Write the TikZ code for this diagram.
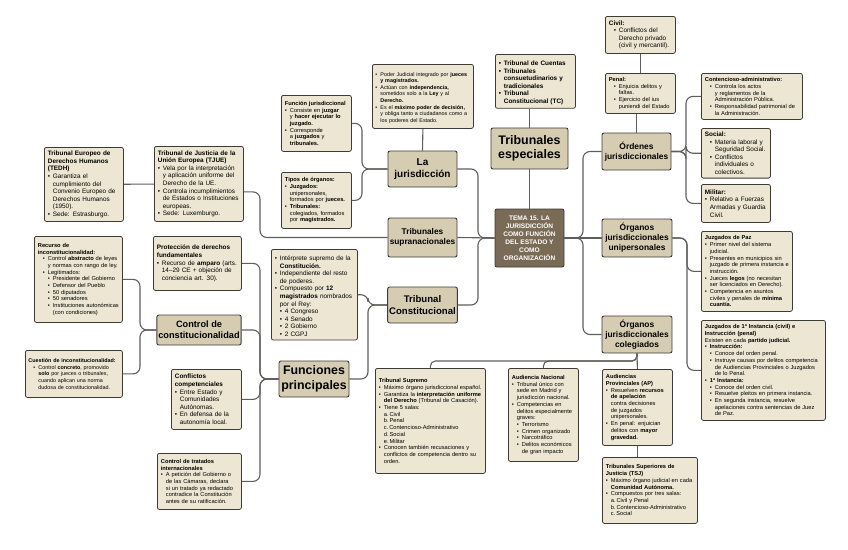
\documentclass[tikz,border=0pt]{standalone}
\usepackage{fontspec}
\setmainfont{Liberation Sans}
\usepackage{xcolor}
\usepackage{tikz}
\usetikzlibrary{positioning}
\definecolor{borde}{HTML}{3D3B37}
\definecolor{gris}{HTML}{5F5E5B}
\definecolor{fondohoja}{HTML}{ECE6D3}
\definecolor{fondorama}{HTML}{D5CCB2}
\definecolor{fondocentro}{HTML}{7A6B56}
\hyphenpenalty=10000
\exhyphenpenalty=10000
\newcommand{\puno}{\par\hangindent=5pt\hangafter=1\noindent\makebox[5pt][l]{\textbullet}}
\newcommand{\pdos}{\par\hangindent=10pt\hangafter=1\noindent\hspace*{5pt}\makebox[5pt][l]{\textbullet}}
\newcommand{\ptres}{\par\hangindent=15pt\hangafter=1\noindent\hspace*{10pt}\makebox[5pt][l]{\textbullet}}
\newcommand{\pletra}{\par\hangindent=10pt\hangafter=1\noindent\hspace*{5pt}}
\tikzset{
  hoja/.style={rectangle, rounded corners=2pt, draw=borde, fill=fondohoja, text=black,
    align=left, anchor=north west, inner sep=3.5pt, line width=0.8pt},
  chica/.style={font=\fontsize{5.7}{6.7}\selectfont},
  mini/.style={font=\fontsize{5.4}{6.6}\selectfont},
  media/.style={font=\fontsize{6.4}{7.6}\selectfont},
  rama/.style={rectangle, rounded corners=2pt, draw=borde, fill=fondorama, text=black,
    align=center, inner sep=1.5pt, line width=0.9pt},
  centro/.style={rama, fill=fondocentro, text=white, font=\fontsize{6.6}{8}\selectfont\bfseries},
  lien/.style={draw=gris, line width=1.1pt, rounded corners=7pt},
}

\begin{document}
\begin{tikzpicture}[x=1pt, y=-1pt]
  \useasboundingbox (0,0) rectangle (848,549);

  % ramas principales
  \node[centro, minimum width=69pt, minimum height=58pt] (tema) at (529.5,238)
    {TEMA 15. LA\\JURISDICCIÓN\\COMO FUNCIÓN\\DEL ESTADO Y\\COMO\\ORGANIZACIÓN};
  \node[rama, font=\fontsize{12.4}{14.5}\selectfont\bfseries, minimum width=77pt, minimum height=41pt] (especiales) at (529.5,148.5) {Tribunales\\especiales};
  \node[rama, font=\fontsize{8.4}{10}\selectfont\bfseries, minimum width=69pt, minimum height=37pt] (ordenes) at (636.5,151.5) {Órdenes\\jurisdiccionales};
  \node[rama, font=\fontsize{8.4}{10}\selectfont\bfseries, minimum width=70pt, minimum height=38pt] (unipersonales) at (637,238) {Órganos\\jurisdiccionales\\unipersonales};
  \node[rama, font=\fontsize{8.4}{10}\selectfont\bfseries, minimum width=70pt, minimum height=37pt] (colegiados) at (637,334.5) {Órganos\\jurisdiccionales\\colegiados};
  \node[rama, font=\fontsize{10}{11.7}\selectfont\bfseries, minimum width=69pt, minimum height=36pt] (jurisdiccion) at (422.5,169) {La\\jurisdicción};
  \node[rama, font=\fontsize{8.3}{9.8}\selectfont\bfseries, minimum width=69pt, minimum height=39pt] (supranacionales) at (422.5,237.5) {Tribunales\\supranacionales};
  \node[rama, font=\fontsize{9.6}{11.5}\selectfont\bfseries, minimum width=69pt, minimum height=36pt] (constitucional) at (422.5,305) {Tribunal\\Constitucional};
  \node[rama, font=\fontsize{12.4}{14.5}\selectfont\bfseries, minimum width=70pt, minimum height=36pt] (funciones) at (314,379) {Funciones\\principales};
  \node[rama, font=\fontsize{9.2}{11}\selectfont\bfseries, minimum width=84pt, minimum height=30pt] (control) at (199,330) {Control de\\constitucionalidad};

  % hojas: lado izquierdo
  \node[hoja, media, text width=72pt, minimum height=74pt] (tedh) at (44,147)
    {\textbf{Tribunal Europeo de Derechos Humanos (TEDH)}\puno Garantiza el cumplimiento del Convenio Europeo de Derechos Humanos (1950).\puno Sede: Estrasburgo.\par};
  \node[hoja, media, text width=82pt, minimum height=75pt] (tjue) at (154,146)
    {\textbf{Tribunal de Justicia de la Unión Europea (TJUE)}\puno Vela por la interpretación y aplicación uniforme del Derecho de la UE.\puno Controla incumplimientos de Estados o Instituciones europeas.\puno Sede: Luxemburgo.\par};
  \node[hoja, chica, text width=81pt, minimum height=86pt] (recurso) at (34,236)
    {\textbf{Recurso de inconstitucionalidad:}\pdos Control \textbf{abstracto} de leyes y normas con rango de ley.\pdos Legitimados:\ptres Presidente del Gobierno\ptres Defensor del Pueblo\ptres 50 diputados\ptres 50 senadores\ptres Instituciones autonómicas (con condiciones)\par};
  \node[hoja, media, text width=81pt, minimum height=54pt] (proteccion) at (153,236)
    {\textbf{Protección de derechos fundamentales}\puno Recurso de \textbf{amparo} (arts. 14–29 CE + objeción de conciencia art. 30).\par};
  \node[hoja, mini, text width=91pt, minimum height=47pt, inner sep=3pt] (cuestion) at (25,350)
    {\textbf{Cuestión de inconstitucionalidad:}\pdos Control \textbf{concreto}, promovido \textbf{solo} por jueces o tribunales, cuando aplican una norma dudosa de constitucionalidad.\par};
  \node[hoja, media, text width=63pt, minimum height=60pt] (conflictos) at (171,369)
    {\textbf{Conflictos competenciales}\puno Entre Estado y Comunidades Autónomas.\puno En defensa de la autonomía local.\par};
  \node[hoja, chica, text width=77pt, minimum height=56pt] (tratados) at (157,453)
    {\textbf{Control de tratados internacionales}\puno A petición del Gobierno o de las Cámaras, declara si un tratado ya redactado contradice la Constitución antes de su ratificación.\par};

  % hojas: la jurisdicción y TC
  \node[hoja, chica, text width=63pt, minimum height=56pt] (funcion) at (281,95)
    {\textbf{Función jurisdiccional}\puno Consiste en \textbf{juzgar} y \textbf{hacer ejecutar lo juzgado.}\puno Corresponde a \textbf{juzgados} y \textbf{tribunales.}\par};
  \node[hoja, chica, text width=63pt, minimum height=56pt] (tipos) at (281,172)
    {\textbf{Tipos de órganos:}\puno \textbf{Juzgados:} unipersonales, formados por \textbf{jueces.}\puno \textbf{Tribunales:} colegiados, formados por \textbf{magistrados.}\par};
  \node[hoja, mini, text width=95pt, minimum height=64pt, inner sep=3pt] (poder) at (372,64)
    {\puno Poder Judicial integrado por \textbf{jueces y magistrados.}\puno Actúan con \textbf{independencia,} sometidos solo a la \textbf{Ley} y al \textbf{Derecho.}\puno Es el \textbf{máximo poder de decisión,} y obliga tanto a ciudadanos como a los poderes del Estado.\par};
  \node[hoja, media, text width=79pt, minimum height=89pt] (interprete) at (271,249)
    {\puno Intérprete supremo de la \textbf{Constitución.}\puno Independiente del resto de poderes.\puno Compuesto por \textbf{12 magistrados} nombrados por el Rey:\pdos 4 Congreso\pdos 4 Senado\pdos 2 Gobierno\pdos 2 CGPJ\par};

  % hojas: tribunales especiales y órdenes
  \node[hoja, media, text width=73pt, minimum height=52pt] (cuentas) at (495,54)
    {\bfseries\puno Tribunal de Cuentas\puno Tribunales consuetudinarios y tradicionales\puno Tribunal Constitucional (TC)\par};
  \node[hoja, media, text width=63pt, minimum height=37pt] (civil) at (605,16)
    {\textbf{Civil:}\pdos Conflictos del Derecho privado (civil y mercantil).\par};
  \node[hoja, chica, text width=63pt, minimum height=40pt] (penal) at (605,73)
    {\textbf{Penal:}\pdos Enjuicia delitos y faltas.\pdos Ejercicio del ius puniendi del Estado\par};
  \node[hoja, chica, text width=94pt, minimum height=46pt] (contencioso) at (701,73)
    {\textbf{Contencioso-administrativo:}\pdos Controla los actos y reglamentos de la Administración Pública.\pdos Responsabilidad patrimonial de la Administración.\par};
  \node[hoja, media, text width=62pt, minimum height=47pt] (social) at (701,128)
    {\textbf{Social:}\pdos Materia laboral y Seguridad Social.\pdos Conflictos individuales o colectivos.\par};
  \node[hoja, media, text width=62pt, minimum height=38pt] (militar) at (701,184)
    {\textbf{Militar:}\puno Relativo a Fuerzas Armadas y Guardia Civil.\par};

  % hojas: órganos
  \node[hoja, chica, text width=84pt, minimum height=80pt] (paz) at (701,231)
    {\textbf{Juzgados de Paz}\puno Primer nivel del sistema judicial.\puno Presentes en municipios sin juzgado de primera instancia e instrucción.\puno Jueces \textbf{legos} (no necesitan ser licenciados en Derecho).\puno Competencia en asuntos civiles y penales de \textbf{mínima cuantía.}\par};
  \node[hoja, chica, text width=117pt, minimum height=100pt] (instancia) at (701,320)
    {\textbf{Juzgados de 1ª Instancia (civil) e Instrucción (penal)}\par\noindent Existen en cada \textbf{partido judicial.}\puno\textbf{Instrucción:}\pdos Conoce del orden penal.\pdos Instruye causas por delitos competencia de Audiencias Provinciales o Juzgados de lo Penal.\puno\textbf{1ª Instancia:}\pdos Conoce del orden civil.\pdos Resuelve pleitos en primera instancia.\pdos En segunda instancia, resuelve apelaciones contra sentencias de Juez de Paz.\par};
  \node[hoja, chica, text width=103pt, minimum height=105pt] (supremo) at (375,368)
    {\textbf{Tribunal Supremo}\puno Máximo órgano jurisdiccional español.\puno Garantiza la \textbf{interpretación uniforme del Derecho} (Tribunal de Casación).\puno Tiene 5 salas:\pletra a.\,Civil\pletra b.\,Penal\pletra c.\,Contencioso-Administrativo\pletra d.\,Social\pletra e.\,Militar\puno Conocen también recusaciones y conflictos de competencia dentro su orden.\par};
  \node[hoja, chica, text width=63pt, minimum height=93pt] (audiencia) at (508,368)
    {\textbf{Audiencia Nacional}\puno Tribunal único con sede en Madrid y jurisdicción nacional.\puno Competencias en delitos especialmente graves:\pdos Terrorismo\pdos Crimen organizado\pdos Narcotráfico\pdos Delitos económicos de gran impacto\par};
  \node[hoja, chica, text width=63pt, minimum height=76pt] (provinciales) at (602,369)
    {\textbf{Audiencias Provinciales (AP)}\puno Resuelven \textbf{recursos de apelación} contra decisiones de juzgados unipersonales.\puno En penal: enjuician delitos con \textbf{mayor gravedad.}\par};
  \node[hoja, chica, text width=88pt, minimum height=66pt] (tsj) at (602,457)
    {\textbf{Tribunales Superiores de Justicia (TSJ)}\puno Máximo órgano judicial en cada \textbf{Comunidad Autónoma.}\puno Compuestos por tres salas:\pletra a.\,Civil y Penal\pletra b.\,Contencioso-Administrativo\pletra c.\,Social\par};

  % buses de conexion
  \coordinate (busder) at (583,0);
  \coordinate (busizq) at (478,0);
  \coordinate (busord) at (686,0);
  \coordinate (busuni) at (687,0);
  \coordinate (busjur) at (362,0);
  \coordinate (bustc) at (368,0);
  \coordinate (busfun) at (260,0);
  \coordinate (buscon) at (140,0);
  \coordinate (nudo) at (637,361);

  \draw[lien] (tema.east) -- (tema.east -| busder) |- (ordenes.west);
  \draw[lien] (tema.east) -- (unipersonales.west);
  \draw[lien] (tema.east) -- (tema.east -| busder) |- (colegiados.west);
  \draw[lien] (tema.west) -- (tema.west -| busizq) |- (jurisdiccion.east);
  \draw[lien] (tema.west) -- (supranacionales.east);
  \draw[lien] (tema.west) -- (tema.west -| busizq) |- (constitucional.east);
  \draw[lien] (tema.north) -- (especiales.south);
  \draw[lien] (especiales.north) -- (especiales.north |- cuentas.south);
  \draw[lien] (ordenes.north) -- (ordenes.north |- penal.south);
  \draw[lien] (penal.north) -- (penal.north |- civil.south);
  \draw[lien] (ordenes.east) -- (ordenes.east -| busord) |- (contencioso.west);
  \draw[lien] (ordenes.east) -- (ordenes.east -| busord) |- (social.west);
  \draw[lien] (ordenes.east) -- (ordenes.east -| busord) |- (militar.west);
  \draw[lien] (unipersonales.east) -- (unipersonales.east -| busuni) |- (paz.west);
  \draw[lien] (unipersonales.east) -- (unipersonales.east -| busuni) |- (instancia.west);
  \draw[lien] (colegiados.south) -- (provinciales.north);
  \draw[lien] (provinciales.south) -- (provinciales.south |- tsj.north);
  \draw[lien, rounded corners=5pt] (colegiados.south) -- (nudo) -| (supremo.north);
  \draw[lien, rounded corners=5pt] (colegiados.south) -- (nudo) -| (audiencia.north);
  \draw[lien] (jurisdiccion.north) -- (poder.south);
  \draw[lien] (jurisdiccion.west) -- (jurisdiccion.west -| busjur) |- (funcion.east);
  \draw[lien] (jurisdiccion.west) -- (jurisdiccion.west -| busjur) |- (tipos.east);
  \draw[lien] (supranacionales.west) -- (supranacionales.west -| busfun) |- ([yshift=-8pt]tjue.east);
  \draw[lien] (tedh) -- (tjue);
  \draw[lien] (constitucional.west) -- (constitucional.west -| bustc) |- (interprete.east);
  \draw[lien] (constitucional.west) -- (constitucional.west -| bustc) |- (funciones.east);
  \draw[lien] (funciones.west) -- (funciones.west -| busfun) |- (proteccion.east);
  \draw[lien] (funciones.west) -- (funciones.west -| busfun) |- (control.east);
  \draw[lien] (funciones.west) -- (funciones.west -| busfun) |- (conflictos.east);
  \draw[lien] (funciones.west) -- (funciones.west -| busfun) |- (tratados.east);
  \draw[lien] (control.west) -- (control.west -| buscon) |- (recurso.east);
  \draw[lien] (control.west) -- (control.west -| buscon) |- (cuestion.east);
\end{tikzpicture}
\end{document}
